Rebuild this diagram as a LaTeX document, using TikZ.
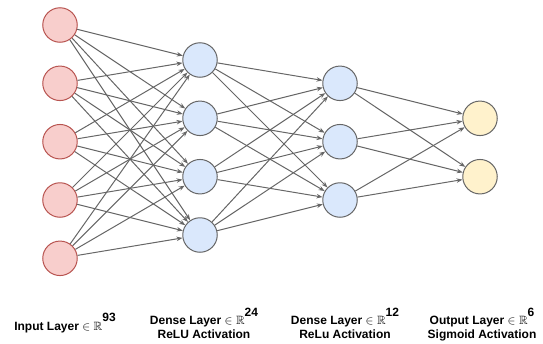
\documentclass[tikz,border=0pt]{standalone}
\usepackage{fontspec}
\setmainfont{Liberation Sans}
\usepackage{amssymb}
\usetikzlibrary{arrows.meta}
\definecolor{redfill}{HTML}{F8CECC}
\definecolor{redline}{HTML}{B85450}
\definecolor{bluefill}{HTML}{DAE8FC}
\definecolor{yellowfill}{HTML}{FFF2CC}
\definecolor{edgegrey}{HTML}{666666}
\newcommand{\supnum}[1]{\raisebox{8.5pt}{#1}}
\begin{document}
\begin{tikzpicture}[x=1pt,y=-1pt,
  neuron/.style={circle, minimum size=34.5pt, inner sep=0pt, line width=1pt},
  inp/.style={neuron, draw=redline, fill=redfill},
  hid/.style={neuron, draw=edgegrey, fill=bluefill},
  outn/.style={neuron, draw=edgegrey, fill=yellowfill},
  conn/.style={draw=edgegrey, line width=1pt, -{Stealth[length=6pt,width=4.5pt]}},
  lbl/.style={font=\fontsize{12}{14}\selectfont\bfseries, anchor=base, inner sep=0pt}]
\useasboundingbox (0,0) rectangle (543,343);
% input layer
\node[inp] (i1) at (60,25) {};
\node[inp] (i2) at (60,83.3) {};
\node[inp] (i3) at (60,141.7) {};
\node[inp] (i4) at (60,200) {};
\node[inp] (i5) at (60,258.3) {};
% dense 1
\node[hid] (h1) at (200,60) {};
\node[hid] (h2) at (200,118.3) {};
\node[hid] (h3) at (200,176.7) {};
\node[hid] (h4) at (200,235) {};
% dense 2
\node[hid] (g1) at (340,83.3) {};
\node[hid] (g2) at (340,141.7) {};
\node[hid] (g3) at (340,200) {};
% output
\node[outn] (o1) at (480,118.3) {};
\node[outn] (o2) at (480,176.7) {};
% connections
\foreach \a in {1,...,5} \foreach \b in {1,...,4} \draw[conn] (i\a) -- (h\b);
\foreach \a in {1,...,4} \foreach \b in {1,...,3} \draw[conn] (h\a) -- (g\b);
\foreach \a in {1,...,3} \foreach \b in {1,2} \draw[conn] (g\a) -- (o\b);
% labels
\node[lbl] (li) at (65,330) {Input Layer $\in$ $\mathbb{R}$\supnum{93}};
\node[lbl] (la1) at (204,324.5) {Dense Layer $\in$ $\mathbb{R}$\supnum{24}};
\node[lbl] (la2) at (204,338) {ReLU Activation};
\node[lbl] (lb1) at (345,324.5) {Dense Layer $\in$ $\mathbb{R}$\supnum{12}};
\node[lbl] (lb2) at (345,338) {ReLu Activation};
\node[lbl] (lc1) at (482,324.5) {Output Layer $\in$ $\mathbb{R}$\supnum{6}};
\node[lbl] (lc2) at (482,338) {Sigmoid Activation};
\end{tikzpicture}
\end{document}
